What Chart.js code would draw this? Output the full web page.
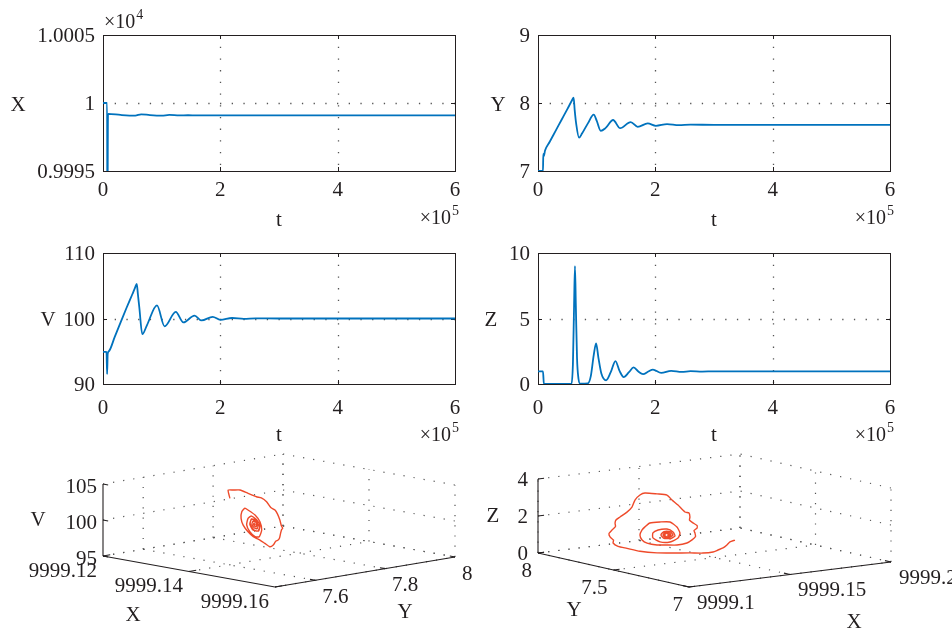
<!DOCTYPE html>
<html>
<head>
<meta charset="utf-8">
<script src="https://cdn.jsdelivr.net/npm/chart.js@4.4.0/dist/chart.umd.min.js"></script>
<style>
body{margin:0;background:#fff;width:952px;height:629px;position:relative;overflow:hidden}
canvas{position:absolute}
</style>
</head>
<body>
<canvas id="cX" width="476" height="230" style="left:0;top:0"></canvas>
<canvas id="cY" width="476" height="230" style="left:476px;top:0"></canvas>
<canvas id="cV" width="476" height="220" style="left:0;top:230px"></canvas>
<canvas id="cZ" width="476" height="220" style="left:476px;top:230px"></canvas>
<canvas id="cXYV" width="476" height="189" style="left:0;top:440px"></canvas>
<canvas id="cYXZ" width="476" height="189" style="left:476px;top:440px"></canvas>
<script>
// time in units of 1e5, X in units of 1e4
var tTicks=[0,2,4,6]

var tX=[0,0.07,0.075,0.085,0.3,0.55,0.65,0.8,1.0,1.13,1.3,1.45,1.6,2,3,4,5,6]
var valX=[1.0,1.0,0.999,0.99992,0.999912,0.999907,0.999917,0.999911,0.999907,0.999912,0.999909,0.99991,0.999909,0.999909,0.999909,0.999909,0.999909,0.999909]
var xTicks=[0.9995,1,1.0005]

var tY=[0,0.08,0.085,0.09,0.1,0.12,0.2,0.3,0.4,0.5,0.58,0.607,0.625,0.65,0.70,0.75,0.85,0.95,1.0,1.07,1.15,1.28,1.4,1.58,1.70,1.87,2.01,2.2,2.4,2.6,3,4,5,6]
var valY=[7,7,7,7.25,7.22,7.3,7.43,7.59,7.75,7.91,8.04,8.08,7.9,7.7,7.49,7.55,7.7,7.83,7.74,7.59,7.63,7.75,7.63,7.72,7.65,7.70,7.665,7.69,7.675,7.682,7.678,7.678,7.678,7.678]
var yTicks=[7,8,9]

var tV=[0,0.06,0.07,0.08,0.1,0.2,0.3,0.4,0.5,0.55,0.575,0.595,0.62,0.67,0.75,0.92,1.05,1.24,1.37,1.56,1.68,1.87,2.0,2.2,2.4,2.6,3,4,5,6]
var valV=[94.9,94.9,91.5,94.6,95.0,97.2,99.4,101.6,103.7,104.8,105.3,103.7,101.6,97.6,99.0,102.0,98.8,101.0,99.4,100.45,99.7,100.25,99.8,100.08,99.95,100.02,100,100,100,100]
var vTicks=[90,100,110]

var tZ=[0,0.085,0.1,0.57,0.595,0.615,0.63,0.645,0.665,0.69,0.72,0.85,0.9,0.95,0.99,1.03,1.08,1.16,1.24,1.32,1.39,1.46,1.55,1.63,1.71,1.79,1.88,1.96,2.1,2.27,2.45,2.6,2.8,3,4,5,6]
var valZ=[0.97,0.97,0,0,1.5,6.0,9.0,6.0,2.0,0.4,0.02,0.05,0.6,2.2,3.1,2.0,0.8,0.28,0.9,1.75,1.0,0.53,0.9,1.27,0.95,0.75,0.95,1.1,0.85,1.0,0.92,0.98,0.95,0.97,0.97,0.97,0.97]
var zTicks=[0,5,10]

// phase portrait X-Y-V
var pXa=[9999.14,9999.14,9999.14,9999.14,9999.14,9999.14,9999.14,9999.14,9999.14,9999.14,9999.14,9999.14,9999.14,9999.14,9999.14,9999.14,9999.14,9999.14,9999.14,9999.14,9999.14,9999.14,9999.14,9999.14,9999.14,9999.14,9999.14,9999.14,9999.14,9999.14,9999.14,9999.14,9999.14,9999.14,9999.14,9999.14,9999.14,9999.14,9999.14,9999.14,9999.14,9999.14,9999.14,9999.14,9999.14,9999.14,9999.14,9999.14,9999.14,9999.14,9999.14,9999.14,9999.14,9999.14,9999.14,9999.14,9999.14,9999.14,9999.14,9999.14,9999.14,9999.14,9999.14]
var pYa=[7.602,7.597,7.612,7.631,7.654,7.678,7.692,7.707,7.719,7.731,7.738,7.745,7.749,7.753,7.750,7.747,7.744,7.740,7.733,7.726,7.716,7.702,7.688,7.678,7.669,7.654,7.640,7.634,7.636,7.645,7.654,7.674,7.688,7.693,7.686,7.674,7.659,7.650,7.654,7.664,7.679,7.688,7.682,7.668,7.659,7.665,
    7.687,7.684,7.670,7.660,7.664,7.677,7.682,7.680,7.672,7.665,7.668,7.676,7.678,7.677,7.670,7.671,7.674]
var pVa=[104.22,105.4,105.29,105.14,104.49,103.82,103.55,102.89,102.0,101.54,100.95,100.04,99.25,98.82,98.7,98.18,97.55,97.31,97.2,96.72,96.57,97.15,97.72,98.04,98.35,99.15,100.19,101.18,102.08,102.49,102.17,101.32,100.26,99.08,98.21,98.31,99.11,100.13,101.01,101.25,100.58,99.67,99.03,99.28,100.18,100.83,
    99.64,99.00,99.30,100.22,100.86,100.56,99.75,99.37,99.54,100.11,100.49,100.32,99.84,99.66,100.02,100.20,99.93]
var axXa=[9999.12,9999.14,9999.16]
var axYa=[7.6,7.8,8]
var axVa=[95,100,105]

// phase portrait Y-X-Z
var pXb=[9999.135,9999.135,9999.135,9999.135,9999.135,9999.135,9999.135,9999.135,9999.135,9999.135,
    9999.135,9999.135,9999.135,9999.135,9999.135,9999.135,9999.135,9999.135,9999.135,9999.135,
    9999.135,9999.135,9999.135,9999.135,9999.135,9999.135,9999.135,9999.135,9999.135,9999.135,
    9999.135,9999.135,9999.135,9999.135,9999.135,9999.135,9999.135,9999.135,9999.135,9999.135,
    9999.135,9999.135,9999.135,9999.135,9999.135,9999.135,9999.135,9999.135,9999.135,9999.135,
    9999.135,9999.135,9999.135,9999.135,9999.135,9999.135,9999.135,9999.135,9999.135,9999.135,
    9999.135,9999.135,9999.135,9999.135,9999.135,9999.135,9999.135,9999.135,9999.135,9999.135,
    9999.135,9999.135,9999.135,9999.135,9999.135,9999.135,9999.135,9999.135,9999.135,9999.135,
    9999.135,9999.135,9999.135]
var pYb=[7.164,7.197,7.217,7.243,7.276,7.309,7.376,7.462,7.574,7.680,7.793,7.879,7.938,
    7.971,7.968,7.991,7.998,7.978,7.955,7.958,7.952,7.925,
    7.879,7.846,7.826,7.793,7.760,7.680,7.614,7.581,7.541,7.495,
    7.468,7.462,7.465,7.442,7.415,7.415,7.435,7.429,7.425,7.448,
    7.482,7.548,7.614,7.680,7.746,7.779,7.793,7.779,7.760,7.727,7.660,7.594,7.548,7.528,7.541,7.594,7.660,7.707,7.707,7.673,7.614,7.574,7.561,7.594,
    7.594,7.634,7.654,7.634,7.594,7.574,7.601,7.627,7.640,7.627,7.601,7.588,7.614,7.631,7.614,7.597,7.614]
var pZb=[1.76,1.60,1.40,1.19,1.02,0.85,0.67,0.52,0.31,0.12,0.0,0.0,0.0,
    0.12,0.28,0.41,0.59,0.81,1.04,1.22,1.40,1.61,
    1.96,2.29,2.71,3.04,3.21,3.31,3.37,3.16,2.96,2.67,
    2.67,2.46,2.29,2.18,2.09,1.95,1.78,1.66,1.47,1.25,
    1.02,0.79,0.67,0.55,0.53,0.64,0.88,1.18,1.38,1.65,1.83,1.95,1.76,1.47,1.18,0.87,0.75,0.88,1.15,1.37,1.53,1.45,1.25,1.03,
    1.06,0.99,1.14,1.36,1.43,1.28,1.10,1.06,1.16,1.32,1.36,1.26,1.11,1.18,1.31,1.24,1.20]
var axXb=[9999.1,9999.15,9999.2]
var axYb=[7,7.5,8]
var axZb=[0,2,4]

var BLUE='#0072BD', RED='#EE4A2A', INK='#231F20', GRID='#555555'
var FONT='"Liberation Serif", "Times New Roman", serif'

function seg(ctx,x1,y1,x2,y2){
    ctx.beginPath(); ctx.moveTo(x1,y1); ctx.lineTo(x2,y2); ctx.stroke()
}

function power(ctx,x,y,base,exp,align){
    ctx.font='20px '+FONT
    var w1=ctx.measureText(base).width
    ctx.font='14px '+FONT
    var w2=ctx.measureText(exp).width
    var x0=align=='right' ? x-w1-w2-1 : x
    ctx.textAlign='left'; ctx.textBaseline='alphabetic'
    ctx.font='20px '+FONT
    ctx.fillText(base,x0,y)
    ctx.font='14px '+FONT
    ctx.fillText(exp,x0+w1+1,y-9)
}

function framePlugin(vTk,o){
    return {
        id:'frame',
        beforeDatasetsDraw:function(chart){
            var ctx=chart.ctx, a=chart.chartArea, sx=chart.scales.x, sy=chart.scales.y
            ctx.save()
            ctx.strokeStyle=GRID; ctx.lineWidth=1.3; ctx.setLineDash([1.3,10.4])
            tTicks.slice(1,-1).forEach(function(v){
                var px=Math.round(sx.getPixelForValue(v))+0.5
                seg(ctx,px,a.top,px,a.bottom)
            })
            vTk.slice(1,-1).forEach(function(v){
                var py=Math.round(sy.getPixelForValue(v))+0.5
                seg(ctx,a.left,py,a.right,py)
            })
            ctx.setLineDash([]); ctx.strokeStyle=INK; ctx.lineWidth=1
            ctx.strokeRect(Math.round(a.left)+0.5,Math.round(a.top)+0.5,Math.round(a.right-a.left),Math.round(a.bottom-a.top))
            tTicks.forEach(function(v){
                var px=Math.round(sx.getPixelForValue(v))+0.5
                seg(ctx,px,a.bottom,px,a.bottom-4)
                seg(ctx,px,a.top,px,a.top+4)
            })
            vTk.forEach(function(v){
                var py=Math.round(sy.getPixelForValue(v))+0.5
                seg(ctx,a.left,py,a.left+4,py)
                seg(ctx,a.right,py,a.right-4,py)
            })
            ctx.restore()
        },
        afterDraw:function(chart){
            var ctx=chart.ctx, a=chart.chartArea, sy=chart.scales.y
            ctx.save()
            ctx.fillStyle=INK
            ctx.font='21px '+FONT
            ctx.textAlign='center'; ctx.textBaseline='middle'
            ctx.fillText(o.title,o.titleX,sy.getPixelForValue(vTk[1])+2)
            ctx.textBaseline='alphabetic'
            ctx.fillText('t',(a.left+a.right)/2,a.bottom+o.tOff)
            power(ctx,a.right+4,a.bottom+o.eOff,'\u00d710','5','right')
            if(o.top) power(ctx,a.left+1,28,'\u00d710','4','left')
            ctx.restore()
        }
    }
}

function make2D(id,ts,vals,vTk,o){
    var pts=ts.map(function(t,i){ return {x:t,y:vals[i]} })
    return new Chart(document.getElementById(id),{
        type:'line',
        data:{datasets:[{data:pts,borderColor:BLUE,borderWidth:1.8,pointRadius:0,fill:false,cubicInterpolationMode:'monotone'}]},
        options:{
            responsive:false,animation:false,events:[],
            layout:{padding:{left:0,right:o.padR,top:o.padT,bottom:0}},
            plugins:{legend:{display:false},tooltip:{enabled:false}},
            scales:{
                x:{type:'linear',min:tTicks[0],max:tTicks[tTicks.length-1],
                    grid:{display:false,drawTicks:false,tickLength:0},border:{display:false},
                    afterBuildTicks:function(s){ s.ticks=tTicks.map(function(v){ return {value:v} }) },
                    afterFit:function(s){ s.height=o.xH },
                    ticks:{font:{family:FONT,size:21},color:INK,padding:o.xPad,maxRotation:0,autoSkip:false,
                        callback:function(v){ return String(v) }}},
                y:{type:'linear',min:vTk[0],max:vTk[vTk.length-1],
                    grid:{display:false,drawTicks:false,tickLength:0},border:{display:false},
                    afterBuildTicks:function(s){ s.ticks=vTk.map(function(v){ return {value:v} }) },
                    afterFit:function(s){ s.width=o.yW },
                    ticks:{font:{family:FONT,size:21},color:INK,padding:8,labelOffset:1.5,autoSkip:false,
                        callback:function(v){ return String(v) }}}
            }
        },
        plugins:[framePlugin(vTk,o)]
    })
}

make2D('cX',tX,valX,xTicks,{padR:21,padT:35,yW:103,xH:59,xPad:6.5,title:'X',titleX:18,tOff:55,eOff:52.5,top:true})
make2D('cY',tY,valY,yTicks,{padR:62,padT:35,yW:62,xH:59,xPad:6.5,title:'Y',titleX:22,tOff:55,eOff:52.5})
make2D('cV',tV,valV,vTicks,{padR:21,padT:23,yW:103,xH:66,xPad:12,title:'V',titleX:48,tOff:57,eOff:57})
make2D('cZ',tZ,valZ,zTicks,{padR:62,padT:23,yW:62,xH:66,xPad:12,title:'Z',titleX:15,tOff:57,eOff:57})

// 3D views: corner (x0,y0,z0) position and the screen vectors for each full axis range
var viewA={w:476,h:189,rng:[[9999.12,9999.16],[7.485,8],[95,105]],org:[103,116],ex:[172,31],ey:[180,-30],ez:[0,-72],
    ticks:[axXa,axYa,axVa],backX:0,backY:1,zAt:[0,0],yAxisX:1,
    lx:{dx:-6,dy:15,align:'right'},ly:{dx:7,dy:17,align:'left'},lz:{dx:-6,dy:3,align:'right'},
    titles:[['X',133,175],['Y',405,172],['V',38,80]]}
var viewB={w:476,h:189,rng:[[9999.1,9999.2],[7,8],[0,4]],org:[213,147],ex:[202,-25],ey:[-151,-34],ez:[0,-74],
    ticks:[axXb,axYb,axZb],backX:1,backY:1,zAt:[0,1],yAxisX:0,
    lx:{dx:8,dy:16,align:'left'},ly:{dx:-6,dy:18,align:'right'},lz:{dx:-10,dy:1.5,align:'right'},
    titles:[['X',378,182],['Y',98,170],['Z',17,76]]}

function projector(v){
    return function(x,y,z){
        var a=(x-v.rng[0][0])/(v.rng[0][1]-v.rng[0][0])
        var b=(y-v.rng[1][0])/(v.rng[1][1]-v.rng[1][0])
        var c=(z-v.rng[2][0])/(v.rng[2][1]-v.rng[2][0])
        return {x:v.org[0]+a*v.ex[0]+b*v.ey[0]+c*v.ez[0], y:v.org[1]+a*v.ex[1]+b*v.ey[1]+c*v.ez[1]}
    }
}

function boxPlugin(v,P){
    var R=v.rng
    return {
        id:'box3d',
        beforeDatasetsDraw:function(chart){
            var ctx=chart.ctx, sx=chart.scales.x, sy=chart.scales.y
            function px(p){ return [sx.getPixelForValue(p.x),sy.getPixelForValue(p.y)] }
            function line3(p,q){ var A=px(P(p[0],p[1],p[2])), B=px(P(q[0],q[1],q[2])); seg(ctx,A[0],A[1],B[0],B[1]) }
            var x0=R[0][0],x1=R[0][1],y0=R[1][0],y1=R[1][1],z0=R[2][0],z1=R[2][1]
            var bx=R[0][v.backX], by=R[1][v.backY]
            ctx.save()
            ctx.strokeStyle=GRID; ctx.lineWidth=1.2; ctx.setLineDash([1.2,9])
            v.ticks[0].forEach(function(t){ line3([t,y0,z0],[t,y1,z0]); line3([t,by,z0],[t,by,z1]) })
            v.ticks[1].forEach(function(t){ line3([x0,t,z0],[x1,t,z0]); line3([bx,t,z0],[bx,t,z1]) })
            v.ticks[2].forEach(function(t){ line3([bx,y0,t],[bx,y1,t]); line3([x0,by,t],[x1,by,t]) })
            ctx.setLineDash([]); ctx.strokeStyle=INK; ctx.lineWidth=1.1
            var zx=R[0][v.zAt[0]], zy=R[1][v.zAt[1]], yx=R[0][v.yAxisX]
            line3([zx,zy,z0],[zx,zy,z1])
            line3([x0,y0,z0],[x1,y0,z0])
            line3([yx,y0,z0],[yx,y1,z0])
            // tick marks
            var dX=0.03*(x1-x0)*(v.yAxisX==1?-1:1), dY=0.04*(y1-y0)
            v.ticks[0].forEach(function(t){ line3([t,y0,z0],[t,y0+dY,z0]) })
            v.ticks[1].forEach(function(t){ line3([yx,t,z0],[yx+dX,t,z0]) })
            v.ticks[2].forEach(function(t){ line3([zx,zy,t],[zx+0.03*(x1-x0),zy,t]) })
            ctx.restore()
        },
        afterDraw:function(chart){
            var ctx=chart.ctx, sx=chart.scales.x, sy=chart.scales.y
            var x0=R[0][0],y0=R[1][0],z0=R[2][0]
            var zx=R[0][v.zAt[0]], zy=R[1][v.zAt[1]], yx=R[0][v.yAxisX]
            ctx.save()
            ctx.fillStyle=INK; ctx.font='21px '+FONT; ctx.textBaseline='middle'
            function put(p,l,txt){
                ctx.textAlign=l.align
                ctx.fillText(txt,sx.getPixelForValue(p.x)+l.dx,sy.getPixelForValue(p.y)+l.dy)
            }
            v.ticks[0].forEach(function(t){ put(P(t,y0,z0),v.lx,String(t)) })
            v.ticks[1].forEach(function(t){ put(P(yx,t,z0),v.ly,String(t)) })
            v.ticks[2].forEach(function(t){ put(P(zx,zy,t),v.lz,String(t)) })
            ctx.textAlign='center'
            v.titles.forEach(function(tt){ ctx.fillText(tt[0],tt[1],tt[2]) })
            ctx.restore()
        }
    }
}

function make3D(id,xs,ys,zs,v){
    var P=projector(v)
    var pts=ys.map(function(y,i){ return P(xs[i],y,zs[i]) })
    return new Chart(document.getElementById(id),{
        type:'scatter',
        data:{datasets:[{data:pts,showLine:true,borderColor:RED,borderWidth:1.4,pointRadius:0,tension:0.2}]},
        options:{
            responsive:false,animation:false,events:[],
            layout:{padding:0},
            plugins:{legend:{display:false},tooltip:{enabled:false}},
            scales:{
                x:{type:'linear',display:false,min:0,max:v.w},
                y:{type:'linear',display:false,min:0,max:v.h,reverse:true}
            }
        },
        plugins:[boxPlugin(v,P)]
    })
}

make3D('cXYV',pXa,pYa,pVa,viewA)
make3D('cYXZ',pXb,pYb,pZb,viewB)
</script>
</body>
</html>
